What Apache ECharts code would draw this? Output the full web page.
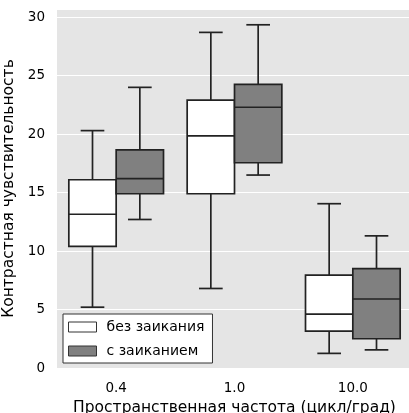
<!DOCTYPE html>
<html>
<head>
<meta charset="utf-8">
<script src="https://cdn.jsdelivr.net/npm/echarts@6/dist/echarts.min.js"></script>
<style>html,body{margin:0;padding:0;background:#fff}#c{width:409px;height:413px}</style>
</head>
<body>
<div id="c"></div>
<script>
const categories = ['0.4', '1.0', '10.0'];
const seriesNames = ['без заикания', 'с заиканием'];
// [min, Q1, median, Q3, max] per category
const noStutter = [
  [5.2, 10.4, 13.15, 16.1, 20.3],
  [6.8, 14.9, 19.85, 22.9, 28.7],
  [1.25, 3.15, 4.6, 7.95, 14.05]
];
const withStutter = [
  [12.7, 14.9, 16.2, 18.65, 24.0],
  [16.5, 17.55, 22.3, 24.25, 29.35],
  [1.55, 2.5, 5.9, 8.5, 11.3]
];
const yTicks = [0, 5, 10, 15, 20, 25, 30];

const fills = ['#ffffff', '#808080'];
const edge = '#222222';
const font = 'DejaVu Sans';

function makeRender(offsetSign, fill) {
  return function (params, api) {
    const ci = api.value(0);
    const band = api.size([1, 0])[0];
    const cx = api.coord([ci, 0])[0] + offsetSign * band * 0.2;
    const w = band * 0.4;
    const hw = w / 2;
    const yMin = api.coord([ci, api.value(1)])[1];
    const yQ1 = api.coord([ci, api.value(2)])[1];
    const yMed = api.coord([ci, api.value(3)])[1];
    const yQ3 = api.coord([ci, api.value(4)])[1];
    const yMax = api.coord([ci, api.value(5)])[1];
    const ls = { stroke: edge, lineWidth: 1.7 };
    const cap = w / 4;
    return {
      type: 'group',
      children: [
        { type: 'line', shape: { x1: cx, y1: yQ3, x2: cx, y2: yMax }, style: ls },
        { type: 'line', shape: { x1: cx, y1: yQ1, x2: cx, y2: yMin }, style: ls },
        { type: 'line', shape: { x1: cx - cap, y1: yMax, x2: cx + cap, y2: yMax }, style: ls },
        { type: 'line', shape: { x1: cx - cap, y1: yMin, x2: cx + cap, y2: yMin }, style: ls },
        { type: 'rect', shape: { x: cx - hw, y: yQ3, width: w, height: yQ1 - yQ3 }, style: { fill: fill, stroke: edge, lineWidth: 1.7 } },
        { type: 'line', shape: { x1: cx - hw, y1: yMed, x2: cx + hw, y2: yMed }, style: ls }
      ]
    };
  };
}

function toData(arr) {
  return arr.map((v, i) => [i].concat(v));
}

const chart = echarts.init(document.getElementById('c'), null, { renderer: 'canvas' });
chart.setOption({
  animation: false,
  backgroundColor: '#ffffff',
  grid: {
    left: 57, top: 9, width: 355, height: 359,
    backgroundColor: '#e5e5e5', show: true, borderWidth: 0,
    containLabel: false, outerBoundsMode: 'none'
  },
  xAxis: {
    type: 'category',
    data: categories,
    name: 'Пространственная частота (цикл/град)',
    nameLocation: 'middle',
    nameGap: 30,
    nameTextStyle: { fontFamily: font, fontSize: 15.5, color: '#000' },
    axisLine: { show: false },
    axisTick: { show: false },
    axisLabel: { fontFamily: font, fontSize: 13.5, color: '#000', margin: 13 },
    splitLine: { show: false }
  },
  yAxis: {
    type: 'value',
    min: 0,
    max: 30.7,
    interval: 5,
    name: 'Контрастная чувствительность',
    nameLocation: 'middle',
    nameGap: 35,
    nameTextStyle: { fontFamily: font, fontSize: 15.5, color: '#000' },
    axisLine: { show: false },
    axisTick: { show: false },
    axisLabel: {
      fontFamily: font, fontSize: 13.5, color: '#000', margin: 12,
      formatter: v => (yTicks.indexOf(v) >= 0 ? String(v) : '')
    },
    splitLine: { show: true, lineStyle: { color: '#ffffff', width: 1.2 } }
  },
  legend: {
    orient: 'vertical',
    left: 63,
    top: 314,
    width: 150,
    backgroundColor: '#ffffff',
    borderColor: '#333333',
    borderWidth: 1,
    borderRadius: 0,
    padding: [6, 8, 5, 5],
    itemWidth: 28,
    itemHeight: 10,
    itemGap: 10,
    icon: 'rect',
    textStyle: { fontFamily: font, fontSize: 14, color: '#000', padding: [0, 0, 0, 5] },
    data: [
      { name: seriesNames[0], itemStyle: { color: fills[0], borderColor: '#333', borderWidth: 1 } },
      { name: seriesNames[1], itemStyle: { color: fills[1], borderColor: '#333', borderWidth: 1 } }
    ]
  },
  series: [
    {
      name: seriesNames[0], type: 'custom',
      itemStyle: { color: fills[0], borderColor: edge },
      renderItem: makeRender(-1, fills[0]),
      encode: { x: 0, y: [1, 2, 3, 4, 5] },
      data: toData(noStutter)
    },
    {
      name: seriesNames[1], type: 'custom',
      itemStyle: { color: fills[1], borderColor: edge },
      renderItem: makeRender(1, fills[1]),
      encode: { x: 0, y: [1, 2, 3, 4, 5] },
      data: toData(withStutter)
    }
  ]
});
</script>
</body>
</html>
